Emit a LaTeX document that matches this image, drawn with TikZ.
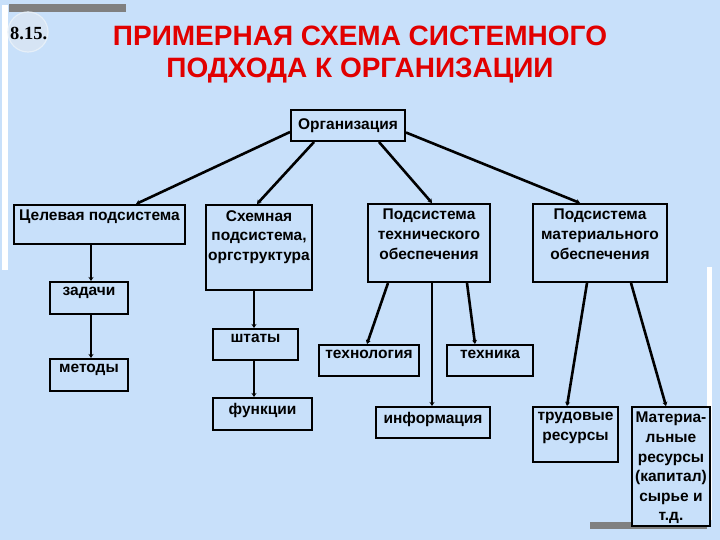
\documentclass[tikz,border=0pt]{standalone}
\usepackage{fontspec}
\setmainfont{Liberation Sans}
\newfontfamily\numfont{Liberation Serif}
\usetikzlibrary{calc,arrows.meta}
\definecolor{bgblue}{RGB}{200,224,250}
\definecolor{circblue}{RGB}{214,228,244}
\definecolor{titlered}{RGB}{225,0,0}
\definecolor{bargray}{RGB}{128,128,128}
\tikzset{
  bx/.style={draw=black, line width=2pt, inner sep=0pt, fill=bgblue},
  bxt/.style={anchor=north, align=center, inner sep=0pt, font=\fontsize{15.5}{19.6}\selectfont\bfseries},
  con/.style={line width=2.6pt, -{Stealth[length=4pt,width=5pt]}},
}
\newcommand{\bxn}[6]{%
  \node[bx, minimum width={#4-#2}, minimum height={#5-#3}] (#1) at ({(#2+#4)/2},{(#3+#5)/2}) {};
  \node[bxt] (#1t) at ([yshift=-6pt]#1.north) {#6};}
\begin{document}
\begin{tikzpicture}[x=1pt,y=-1pt]
\useasboundingbox (0,0) rectangle (720,540);
\fill[bgblue] (0,0) rectangle (720,540);
% decorations
\fill[white] (2,5) rectangle (8,270);
\fill[bargray] (9,4) rectangle (126,12);
\fill[white] (707,267) rectangle (712,520);
\fill[bargray] (590,522) rectangle (707,529);
\fill[circblue, draw=white!40!circblue, line width=1.2pt] (28,32) circle (20);
\node[anchor=base west, inner sep=0pt, font=\numfont\bfseries\fontsize{18.5}{20}\selectfont] (num) at (10,40) {8.15.};
% title
\node[align=center, inner sep=0pt, text=titlered, font=\fontsize{28}{32}\selectfont\bfseries] (title) at (360,55) {ПРИМЕРНАЯ СХЕМА СИСТЕМНОГО\\ПОДХОДА К ОРГАНИЗАЦИИ};
% boxes
\node[bx, minimum width=114, minimum height=31, font=\fontsize{15.5}{20}\selectfont\bfseries] (org) at (348,125.5) {Организация};
\bxn{cel}{14}{205}{185}{244}{Целевая подсистема}
\bxn{shem}{206}{205}{312}{290}{Схемная\\подсистема,\\оргструктура}
\bxn{tech}{368}{204}{490}{282}{Подсистема\\технического\\обеспечения}
\bxn{mat}{533}{204}{667}{282}{Подсистема\\материального\\обеспечения}
\bxn{zad}{50}{282}{128}{314}{задачи}
\bxn{met}{50}{359}{128}{391}{методы}
\bxn{sht}{213}{329}{298}{360}{штаты}
\bxn{fun}{213}{398}{312}{430}{функции}
\bxn{tecnol}{319}{345}{419}{376}{технология}
\bxn{tehn}{447}{345}{533}{376}{техника}
\bxn{inf}{376}{407}{490}{438}{информация}
\bxn{trud}{533}{407}{618}{462}{трудовые\\ресурсы}
\bxn{matr}{632}{407}{710}{526}{Материа-\\льные\\ресурсы\\(капитал)\\сырье и\\т.д.}
% connectors
\draw[con] ($(org.west)+(0,6.5)$) -- ($(cel.north west)+(123,0)$);
\draw[con] ($(org.south west)+(24,0)$) -- ($(shem.north)+(-2,0)$);
\draw[con] ($(org.south west)+(89,0)$) -- ($(tech.north)+(3,0)$);
\draw[con] ($(org.east)+(0,7)$) -- ($(mat.north west)+(48,0)$);
\draw[con] ($(cel.south west)+(78,0)$) -- ($(zad.north west)+(42,0)$);
\draw[con] ($(zad.south west)+(42,0)$) -- ($(met.north west)+(42,0)$);
\draw[con] ($(shem.south west)+(49,0)$) -- ($(sht.north west)+(42,0)$);
\draw[con] ($(sht.south west)+(42,0)$) -- ($(fun.north west)+(42,0)$);
\draw[con] ($(tech.south west)+(21,0)$) -- ($(tecnol.north west)+(49,0)$);
\draw[con] ($(tech.south west)+(65,0)$) -- ($(inf.north west)+(57,0)$);
\draw[con] ($(tech.south west)+(100,0)$) -- ($(tehn.north west)+(29,0)$);
\draw[con] ($(mat.south west)+(55,0)$) -- ($(trud.north west)+(35,0)$);
\draw[con] ($(mat.south west)+(99,0)$) -- ($(matr.north west)+(35,0)$);
\end{tikzpicture}
\end{document}
